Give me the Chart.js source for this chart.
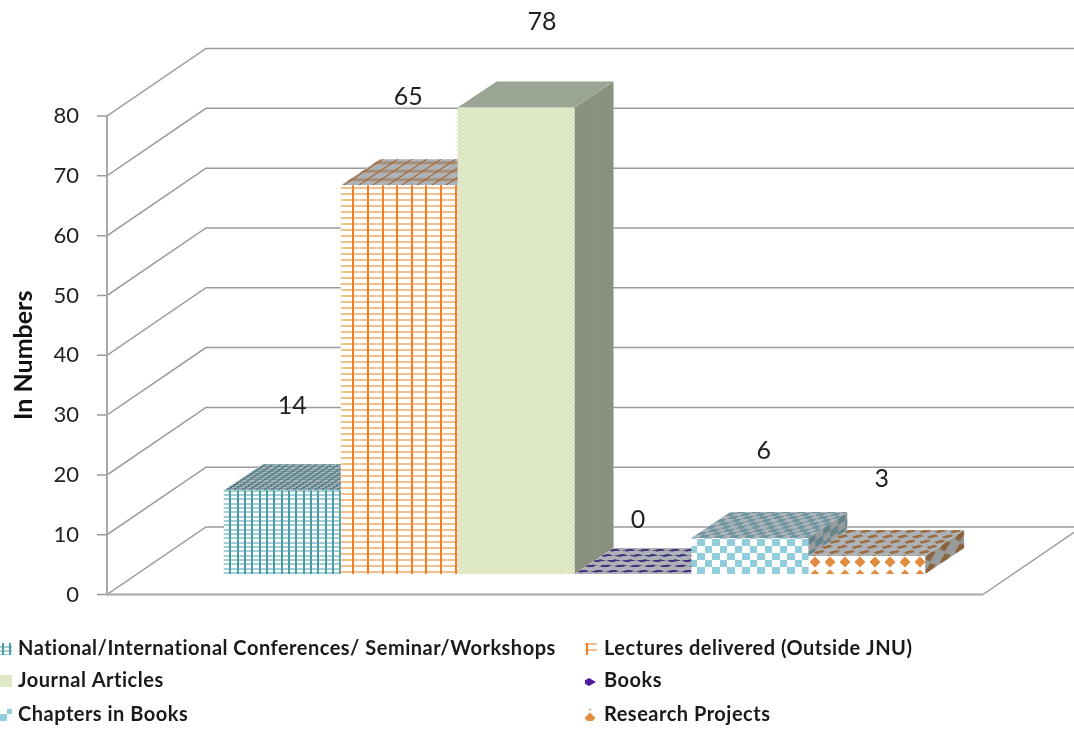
<!DOCTYPE html>
<html>
<head>
<meta charset="utf-8">
<title>Chart</title>
<script src="https://cdn.jsdelivr.net/npm/chart.js@4/dist/chart.umd.min.js"></script>
<style>
  html, body { margin: 0; padding: 0; background: #fff; }
  canvas { display: block; }
</style>
</head>
<body>
<canvas id="myChart" width="1074" height="730"></canvas>
<script>
var seriesNames = [
  'National/International Conferences/ Seminar/Workshops',
  'Lectures delivered (Outside JNU)',
  'Journal Articles',
  'Books',
  'Chapters in Books',
  'Research Projects'
];
var seriesValues = [14, 65, 78, 0, 6, 3];
var tickValues = [0, 10, 20, 30, 40, 50, 60, 70, 80];
var axisTitle = 'In Numbers';

// look of the fake 3d box, excel style
var WALL_DX = 99, WALL_DY = 67.5;
var BAR_DX = 39, BAR_DY = 26;
var FLOOR_END = 983;
var LINE_COLOR = '#9a9a9a';
var FONT = 'Lato, "Open Sans", sans-serif';

// value labels do not sit right on the bars in the original
var labelDx = [10, 9, 26, 5, 14, 15];
var labelDy = [-84, -88, -86, -54, -87, -77];
var topSquash = [0.5, 1.4, 1, 0.35, 0.45, 0.4];

function makePattern(w, h, draw) {
  var c = document.createElement('canvas');
  c.width = w;
  c.height = h;
  var t = c.getContext('2d');
  t.fillStyle = '#fff';
  t.fillRect(0, 0, w, h);
  draw(t);
  return t.createPattern(c, 'repeat');
}

function diamond(t, x, y, rx, ry, color) {
  t.fillStyle = color;
  t.beginPath();
  t.moveTo(x - rx, y);
  t.lineTo(x, y - ry);
  t.lineTo(x + rx, y);
  t.lineTo(x, y + ry);
  t.closePath();
  t.fill();
}

var patterns = [
  makePattern(22, 13, function (t) {
    t.fillStyle = '#a0d0d6';
    for (var i = 0; i < 3; i++) t.fillRect(0, Math.round(i * 4.33), 22, 2);
    t.fillStyle = '#4c9ca8';
    for (var j = 0; j < 3; j++) t.fillRect(Math.round(j * 7.33) + 2, 0, 2, 13);
  }),
  makePattern(73, 6, function (t) {
    t.fillStyle = '#f2c08f';
    t.fillRect(0, 1, 73, 2);
    t.fillStyle = '#ee7f22';
    for (var i = 0; i < 5; i++) t.fillRect(Math.round(2 + i * 14.6), 0, 2, 6);
  }),
  makePattern(4, 4, function (t) {
    t.fillStyle = '#e0e9c6';
    t.fillRect(0, 0, 4, 4);
    t.fillStyle = '#c9d7a5';
    t.fillRect(0, 0, 1, 1);
    t.fillRect(2, 2, 1, 1);
    t.fillStyle = '#eef3dd';
    t.fillRect(2, 0, 1, 1);
    t.fillRect(0, 2, 1, 1);
  }),
  makePattern(15, 15, function (t) {
    diamond(t, 4, 7, 7, 4, '#4b1f9e');
    diamond(t, 19, 7, 7, 4, '#4b1f9e');
  }),
  makePattern(15, 14, function (t) {
    t.fillStyle = '#92cddc';
    t.fillRect(0, 0, 7, 7);
    t.fillRect(7, 7, 8, 7);
  }),
  makePattern(15, 13, function (t) {
    diamond(t, 5, 3, 5.5, 5.5, '#e08b3e');
    diamond(t, 5, 16, 5.5, 5.5, '#e08b3e');
  })
];

var topShade = 'rgba(60,72,82,0.42)';
var sideShade = 'rgba(58,66,66,0.52)';

function drawFaces(ctx, bar, i) {
  var l = bar.x - bar.width / 2, r = bar.x + bar.width / 2;
  var t = bar.y, b = bar.base;
  var s = topSquash[i];

  if (b - t > 0.5) {
    ctx.save();
    ctx.transform(1, -BAR_DY / BAR_DX, 0, 1, r, t);
    ctx.fillStyle = patterns[i];
    ctx.fillRect(0, 0, BAR_DX, b - t);
    ctx.fillStyle = sideShade;
    ctx.fillRect(0, 0, BAR_DX, b - t);
    ctx.restore();
  }

  ctx.save();
  ctx.transform(1, 0, -(BAR_DX / BAR_DY) * s, s, l, t);
  ctx.fillStyle = patterns[i];
  ctx.fillRect(0, -BAR_DY / s, r - l, BAR_DY / s);
  ctx.fillStyle = topShade;
  ctx.fillRect(0, -BAR_DY / s, r - l, BAR_DY / s);
  ctx.restore();
}

// walls of the box first, then top and side of the bars left to right,
// the library paints the bar fronts over all of that
var boxWalls = {
  id: 'boxWalls',
  beforeDatasetsDraw: function (chart) {
    var ctx = chart.ctx;
    var y = chart.scales.y;
    var left = chart.chartArea.left;
    var zero = y.getPixelForValue(0);
    ctx.save();
    ctx.strokeStyle = LINE_COLOR;
    ctx.lineWidth = 1.5;
    tickValues.forEach(function (v) {
      var py = y.getPixelForValue(v);
      ctx.beginPath();
      ctx.moveTo(left - 10, py);
      ctx.lineTo(left, py);
      ctx.lineTo(left + WALL_DX, py - WALL_DY);
      ctx.lineTo(chart.width, py - WALL_DY);
      ctx.stroke();
    });
    ctx.lineWidth = 2;
    ctx.strokeStyle = '#a8a8a8';
    ctx.beginPath();
    ctx.moveTo(left, y.getPixelForValue(80));
    ctx.lineTo(left, zero);
    ctx.lineTo(FLOOR_END, zero);
    ctx.stroke();
    ctx.lineWidth = 1.5;
    ctx.strokeStyle = LINE_COLOR;
    ctx.beginPath();
    ctx.moveTo(FLOOR_END, zero);
    ctx.lineTo(FLOOR_END + WALL_DX, zero - WALL_DY);
    ctx.stroke();
    ctx.restore();

    chart.data.datasets.forEach(function (ds, i) {
      drawFaces(ctx, chart.getDatasetMeta(i).data[0], i);
    });
  }
};

var valueLabels = {
  id: 'valueLabels',
  afterDatasetsDraw: function (chart) {
    var ctx = chart.ctx;
    ctx.save();
    ctx.font = '25px ' + FONT;
    ctx.fillStyle = '#222';
    ctx.textAlign = 'center';
    ctx.textBaseline = 'middle';
    chart.data.datasets.forEach(function (ds, i) {
      var bar = chart.getDatasetMeta(i).data[0];
      ctx.fillText(ds.data[0], bar.x + labelDx[i], bar.y + labelDy[i]);
    });
    ctx.restore();
  }
};

// two columns, three rows, filled row by row
var legendBlock = {
  id: 'legendBlock',
  afterDraw: function (chart) {
    var ctx = chart.ctx;
    var colX = [0, 585];
    var rowY = [649, 681, 715];
    ctx.save();
    ctx.font = 'bold 20px ' + FONT;
    ctx.letterSpacing = '0.5px';
    ctx.textBaseline = 'middle';
    chart.data.datasets.forEach(function (ds, i) {
      var x = colX[i % 2];
      var y = rowY[Math.floor(i / 2)];
      ctx.fillStyle = patterns[i];
      ctx.fillRect(x, y - 6, 12, 12);
      ctx.fillStyle = '#1a1a1a';
      ctx.fillText(ds.label, x + (i % 2 ? 19 : 18), y);
    });
    ctx.restore();
  }
};

var datasets = [];
for (var n = 0; n < seriesNames.length; n++) {
  datasets.push({
    label: seriesNames[n],
    data: [seriesValues[n]],
    backgroundColor: patterns[n],
    borderWidth: 0,
    yAxisID: 'yBars',
    clip: false
  });
}

new Chart(document.getElementById('myChart'), {
  type: 'bar',
  data: { labels: [''], datasets: datasets },
  options: {
    responsive: false,
    animation: false,
    devicePixelRatio: 1,
    layout: { padding: { top: 116, bottom: 135.5, left: 0, right: 32 } },
    datasets: { bar: { categoryPercentage: 0.75, barPercentage: 1 } },
    plugins: { legend: { display: false }, tooltip: { enabled: false } },
    scales: {
      x: { display: false },
      y: {
        min: 0,
        max: 80,
        afterFit: function (scale) { scale.width = 107; },
        afterBuildTicks: function (scale) {
          scale.ticks = tickValues.map(function (v) { return { value: v }; });
        },
        grid: { display: false },
        border: { display: false },
        ticks: { padding: 20, color: '#222', font: { family: FONT, size: 22 } },
        title: {
          display: true,
          text: axisTitle,
          color: '#111',
          padding: { top: 9, bottom: 0 },
          font: { family: FONT, size: 25, weight: 'bold' }
        }
      },
      // bars stand further back than the axis, so 20px above the axis zero
      yBars: { display: false, min: -3.43, max: 76.57 }
    }
  },
  plugins: [boxWalls, valueLabels, legendBlock]
});
</script>
</body>
</html>
